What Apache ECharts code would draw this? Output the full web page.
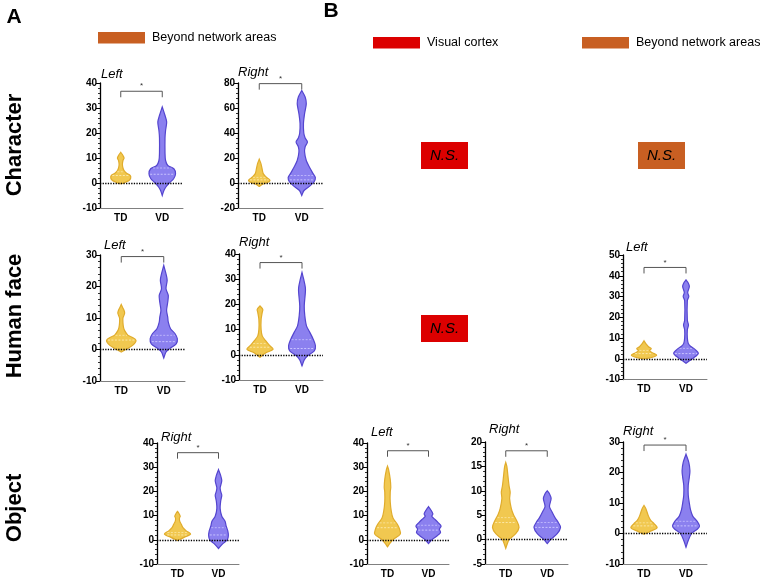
<!DOCTYPE html>
<html><head><meta charset="utf-8">
<script src="https://cdn.jsdelivr.net/npm/echarts@6/dist/echarts.min.js"></script>
<style>html,body{margin:0;padding:0;background:#fff}#c{width:760px;height:579px}</style>
</head><body><div id="c"></div>
<script>
// ---------- DATA ----------
const categories = ['TD', 'VD'];
// violin profiles: [value, relative density]
const charLeftTD = [[-0.3,0],[0,3],[0.5,5],[1,7.5],[2,9],[3,8.5],[4,5],[5,3],[6,2],[7.5,1.5],[9,2],[10,3],[11,2],[12.3,0]];
const charLeftVD = [[-5,0],[-3,1.5],[-1.6,3.3],[0,6.3],[1.7,10.3],[3.7,12],[5.7,10.5],[7,5],[9,3],[12,2.5],[18,2.5],[21,3],[24.4,4],[27,2.5],[30.4,0]];
const charRightTD = [[-2.7,0],[-1,3],[0,6],[1,8.5],[2.1,9.5],[3.5,8],[4.8,6],[7.5,3.5],[11.5,2.5],[15.5,1.5],[19,0]];
const charRightVD = [[-10,0],[-6,2],[-2.7,6.7],[0.8,10.8],[4.3,12],[7.5,10],[12.8,6.7],[18,4],[24.8,2.5],[29,3],[32.8,5],[36,3],[40,1.8],[47.5,1.5],[55.5,2.5],[63.5,4],[68.8,3],[74,0]];
const faceLeftTD = [[-0.8,0],[0,4],[1.3,10],[2.9,13],[4,9],[4.5,6],[6,3],[7,2],[8.5,1.5],[10,1.5],[11.5,3],[12.4,2.5],[13.5,1],[14.3,0]];
const faceLeftVD = [[-2.7,0],[-0.8,2],[0.2,5],[1.8,11],[3.4,12],[5,10],[6.6,6],[8.7,4],[10.3,3.5],[12.4,2.5],[15,3.5],[17.2,4],[19.3,2],[22,3],[24,2],[26.7,0]];
const faceRightTD = [[-1,0],[0.7,5],[2.2,11.7],[3.8,8.3],[5.6,5],[7.5,2],[10,1],[14,1],[16.8,2],[18,2.5],[19.4,0]];
const faceRightVD = [[-4.4,0],[-2,2],[-0.4,5],[1.6,11],[3.6,12],[6.2,10],[8.9,7],[11.5,4],[15.5,2.5],[19.4,2],[24.7,3],[26.7,3],[30,1.5],[32.7,0]];
const faceBLeftTD = [[0,0],[0.5,6],[1.8,11.3],[3,7],[4,5],[4.8,6.5],[5.8,4],[7,2],[8.7,0]];
const faceBLeftVD = [[-2.2,0],[-1,3],[0.5,7],[2.6,11],[4.5,8],[6,4],[7.4,2],[10,1.2],[14,1.2],[16.3,2.2],[18.5,1.2],[28,1.2],[30,2.5],[32,1.5],[34.8,3],[36.5,2],[38,0]];
const objRightTD = [[-0.3,0],[1,6],[2.4,12],[3.7,8],[5,5],[6.4,3.5],[7.7,2],[9,1.8],[9.7,2.5],[11,1.2],[11.7,0]];
const objRightVD = [[-3.6,0],[-1.6,4],[0,8],[1.7,9],[3.7,8.5],[5.7,7],[7.7,6],[9.7,3],[13,1.5],[16,2],[18.4,3],[20,2],[21.5,1.5],[24.4,3],[26.5,2],[29,0]];
const objBLeftTD = [[-2.9,0],[-1.6,2],[0,5],[2.4,11.7],[4.4,11],[6.4,9],[9,5],[11.7,3.5],[15.7,2.5],[19.7,2.5],[21.7,3],[25,2.5],[29,1],[30.4,0]];
const objBLeftVD = [[-1.6,0],[0,3],[1.7,8],[3,11],[4.4,10],[5.7,11.5],[7,9],[8.4,6],[9.7,3],[10.7,4],[12.4,2],[13.7,0]];
const objBRightTD = [[-1.8,0],[-0.8,1.5],[0,3],[1.2,9],[2.5,12],[3.8,10],[5.1,7],[6.4,5],[8.4,3.5],[9.7,4],[11,3],[13,2],[15,1],[15.8,0]];
const objBRightVD = [[-0.8,0],[0,3],[1.2,9],[2.5,12],[3.5,10],[4.5,7],[5.8,4],[6.8,2],[8.4,3.5],[9.4,2],[10,0]];
const objBFarTD = [[-0.2,0],[0.6,5],[1.9,11.7],[3.2,9],[4.3,6],[5.7,4],[7.3,2.5],[8.3,1.5],[9.2,0]];
const objBFarVD = [[-4.5,0],[-2.3,2],[0,5],[1.4,10],[2.5,12],[4,10],[5.7,6],[7.8,4],[9.9,3],[12.6,2],[15.8,2],[18.5,3],[20.6,3.5],[23.3,2.5],[26,0]];
// medians [TD, VD], upper quartiles and significance bracket heights
const medians = [[3,3.5],[2.5,2.5],[3,2.5],[3,2.5],[2.5,2.5],[2,2],[5,4],[3.5,2.5],[2.5,2.5]];
const upperQuartiles = [[4.5,6],[4.5,6],[4.5,4.5],[4.5,6],[4,5],[3,5],[7,6],[4.5,3.5],[3.5,4]];
const sigHeights = [36.7, 79.5, 29.5, 36.6, 44, 36, 36.8, 18.2, 29];
const yTicks = [[-10,40,10],[-20,80,20],[-10,30,10],[-10,40,10],[-10,50,10],[-10,40,10],[-10,40,10],[-5,20,5],[-10,30,10]];
const panelTitles = ['Left','Right','Left','Right','Left','Right','Left','Right','Right'];
const rowLabels = ['Character','Human face','Object'];
const legendLabels = ['Beyond network areas','Visual cortex','Beyond network areas'];

// ---------- LAYOUT ----------
const FONT = 'Liberation Sans, Arial, sans-serif';
const grids = [
  {left:100, top:83, width:83, height:125},
  {left:238, top:83, width:85, height:125},
  {left:100, top:255, width:85, height:126},
  {left:239, top:254, width:84, height:126},
  {left:623, top:255, width:84, height:124.5},
  {left:157, top:443, width:82, height:125},
  {left:367, top:443, width:82, height:125},
  {left:485, top:442, width:83, height:126.5},
  {left:623, top:442, width:84, height:125}
];
const profiles = [
  [charLeftTD, charLeftVD],[charRightTD, charRightVD],
  [faceLeftTD, faceLeftVD],[faceRightTD, faceRightVD],[faceBLeftTD, faceBLeftVD],
  [objRightTD, objRightVD],[objBLeftTD, objBLeftVD],[objBRightTD, objBRightVD],[objBFarTD, objBFarVD]
];
const fills = ['#f1c850', '#8b80ef'];
const strokes = ['#e0ac2c', '#5445cf'];
const medColors = ['#fbe7a6', '#c9c2ff'];

function widthAt(prof, v) {
  for (let k = 0; k < prof.length - 1; k++) {
    const a = prof[k], b = prof[k+1];
    if (v >= a[0] && v <= b[0]) return a[1] + (b[1]-a[1]) * (v-a[0]) / (b[0]-a[0]);
  }
  return 0;
}

function violinRender(p) {
  return function (params, api) {
    const i = params.dataIndex;
    const prof = profiles[p][i];
    const cx = api.coord([i, 0])[0];
    const band = api.size([1, 0])[0];
    const sc = band * 0.32 / 12;
    const right = prof.map(q => [cx + q[1]*sc, api.coord([i, q[0]])[1]]);
    const left = prof.slice().reverse().map(q => [cx - q[1]*sc, api.coord([i, q[0]])[1]]);
    const children = [{
      type: 'polygon', shape: {points: right.concat(left), smooth: 0.3},
      style: {fill: fills[i], stroke: strokes[i], lineWidth: 1.2}
    }];
    [[medians[p][i], 1], [upperQuartiles[p][i], 0.8]].forEach(function (m) {
      const w = widthAt(prof, m[0]) * sc - 1;
      if (w > 1) {
        const y = api.coord([i, m[0]])[1];
        children.push({type: 'line', shape: {x1: cx - w, y1: y, x2: cx + w, y2: y},
          style: {stroke: medColors[i], lineWidth: m[1], lineDash: [2, 1.5]}});
      }
    });
    return {type: 'group', children: children};
  };
}

function bracketRender(params, api) {
  const y = api.coord([0, api.value(0)])[1];
  const x1 = api.coord([0, 0])[0], x2 = api.coord([1, 0])[0];
  return {type: 'group', children: [
    {type: 'polyline', shape: {points: [[x1, y + 6], [x1, y], [x2, y], [x2, y + 6]]},
     style: {stroke: '#555', lineWidth: 1, fill: null}},
    {type: 'text', x: (x1 + x2) / 2, y: y - 1,
     style: {text: '*', fill: '#333', font: '8px ' + FONT, textAlign: 'center', textVerticalAlign: 'bottom'}}
  ]};
}

const xAxes = [], yAxes = [], series = [];
grids.forEach(function (g, p) {
  xAxes.push({gridIndex: p, type: 'category', data: categories,
    axisLine: {onZero: false, lineStyle: {color: '#808080', width: 1}},
    axisTick: {alignWithLabel: true, length: 3, lineStyle: {color: '#808080'}},
    axisLabel: {color: '#000', fontWeight: 'bold', fontSize: 10, fontFamily: FONT, margin: 5}});
  yAxes.push({gridIndex: p, type: 'value', min: yTicks[p][0], max: yTicks[p][1], interval: yTicks[p][2],
    axisLine: {show: true, lineStyle: {color: '#000', width: 1.3}},
    axisTick: {show: true, length: 4, lineStyle: {color: '#000'}},
    minorTick: {show: true, splitNumber: 5, length: 2, lineStyle: {color: '#000', width: 0.8}},
    splitLine: {show: false},
    axisLabel: {color: '#000', fontWeight: 'bold', fontSize: 10, fontFamily: FONT, margin: 3}});
  series.push({type: 'custom', xAxisIndex: p, yAxisIndex: p, data: [[0], [1]],
    renderItem: violinRender(p), silent: true,
    markLine: {silent: true, symbol: 'none', label: {show: false}, animation: false,
      lineStyle: {type: 'dotted', color: '#000', width: 1.3}, data: [{yAxis: 0}]}});
  series.push({type: 'custom', xAxisIndex: p, yAxisIndex: p, data: [[sigHeights[p]]],
    renderItem: bracketRender, silent: true});
});

const titlePos = [[101,68],[238,66],[104,239],[239,236],[626,241],[161,431],[371,426],[489,423],[623,425]];
const graphics = [];
panelTitles.forEach(function (t, p) {
  graphics.push({type: 'text', left: titlePos[p][0], top: titlePos[p][1],
    style: {text: t, font: 'italic 13px ' + FONT, fill: '#000'}});
});
graphics.push({type: 'text', x: 14, y: 17, style: {text: 'A', font: 'bold 21px ' + FONT, fill: '#000', textAlign: 'center', textVerticalAlign: 'middle'}});
graphics.push({type: 'text', x: 331, y: 11, style: {text: 'B', font: 'bold 21px ' + FONT, fill: '#000', textAlign: 'center', textVerticalAlign: 'middle'}});
[[15,145],[15,316],[15,508]].forEach(function (pos, r) {
  graphics.push({type: 'text', x: pos[0], y: pos[1], rotation: Math.PI / 2,
    style: {text: rowLabels[r], font: 'bold 22px ' + FONT, fill: '#000', textAlign: 'center', textVerticalAlign: 'middle'}});
});
const legendPos = [[98,32,'#c85f22'],[373,37,'#dc0000'],[582,37,'#c85f22']];
legendPos.forEach(function (l, k) {
  graphics.push({type: 'rect', shape: {x: l[0], y: l[1], width: 47, height: 11.5}, style: {fill: l[2]}});
  graphics.push({type: 'text', x: l[0] + 54, y: l[1] + 6,
    style: {text: legendLabels[k], font: '12.5px ' + FONT, fill: '#000', textVerticalAlign: 'middle'}});
});
[[421,142,'#dc0000'],[638,142,'#c85f22'],[421,315,'#dc0000']].forEach(function (b) {
  graphics.push({type: 'rect', shape: {x: b[0], y: b[1], width: 47, height: 27}, style: {fill: b[2]}});
  graphics.push({type: 'text', x: b[0] + 23.5, y: b[1] + 13.5,
    style: {text: 'N.S.', font: 'italic 15px ' + FONT, fill: '#000', textAlign: 'center', textVerticalAlign: 'middle'}});
});

const chart = echarts.init(document.getElementById('c'), null, {renderer: 'canvas'});
chart.setOption({
  animation: false,
  backgroundColor: '#fff',
  grid: grids,
  xAxis: xAxes,
  yAxis: yAxes,
  series: series,
  graphic: graphics
});
</script></body></html>
